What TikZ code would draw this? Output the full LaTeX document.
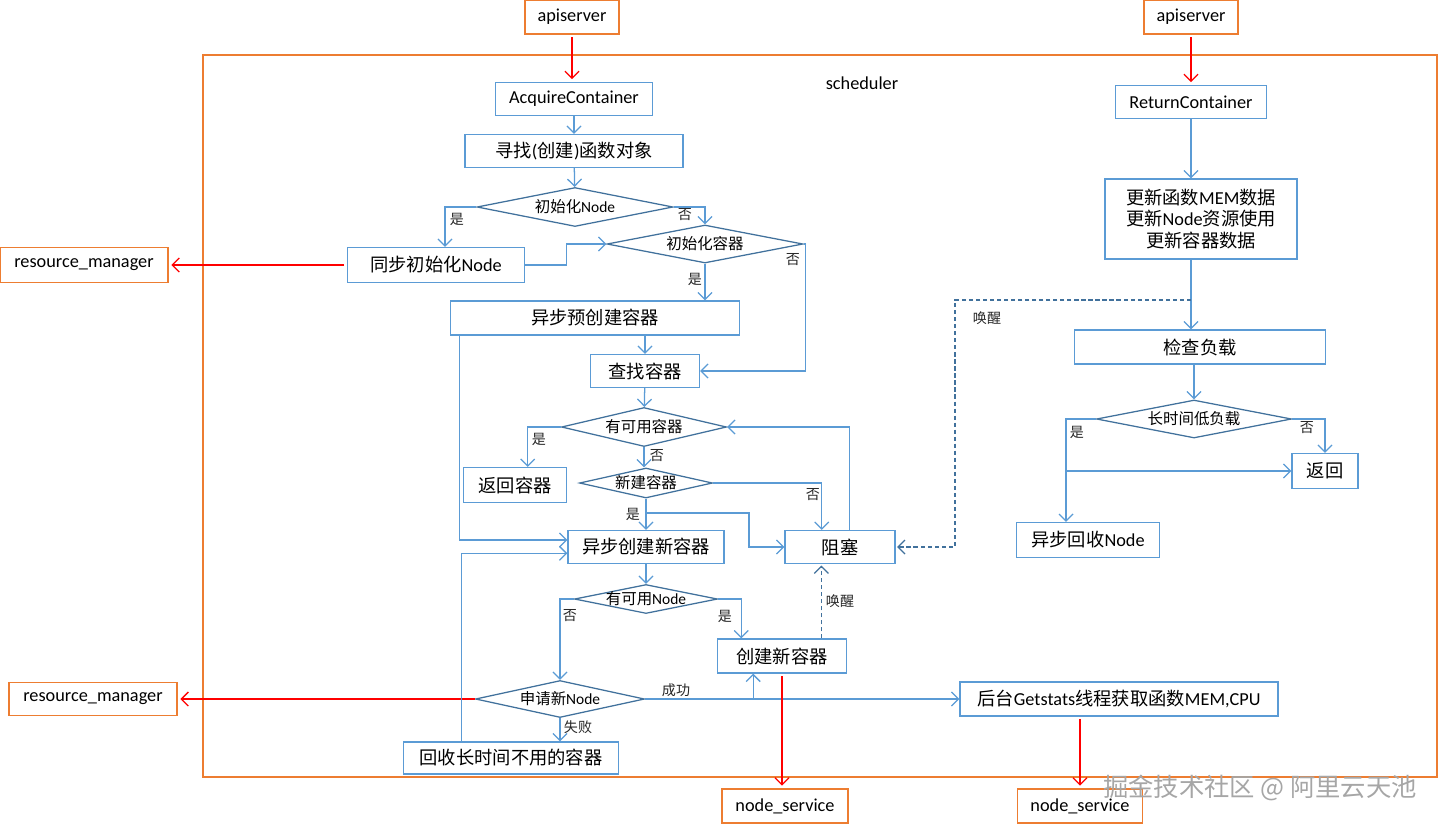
\documentclass[tikz,border=0pt]{standalone}
\usepackage{fontspec}
\setmainfont{Noto Sans CJK SC}
\newfontfamily\lat{Carlito}
\usetikzlibrary{arrows.meta,shapes.geometric}
\definecolor{orng}{HTML}{ED7D31}
\definecolor{boxblue}{HTML}{5B9BD5}
\definecolor{diablue}{HTML}{41719C}
\definecolor{redarr}{HTML}{FF0000}
\definecolor{wmgray}{HTML}{A6A6A6}
\newcommand{\dtxt}[1]{\makebox[0pt]{#1}}
\newcommand{\bigf}{\fontsize{13}{15.4}\selectfont}
\tikzset{
  sz/.style 2 args={minimum width=#1*0.025cm, minimum height=#2*0.025cm},
  extbox/.style={draw=orng, line width=0.9pt, inner sep=0pt, font=\lat\bigf},
  stepbox/.style={draw=boxblue, line width=0.9pt, inner sep=0pt, align=center, font=\bigf},
  decbox/.style={diamond, draw=diablue, line width=0.9pt, inner sep=0pt, aspect=5,
                 font=\fontsize{11}{13}\selectfont},
  lbl/.style={inner sep=0pt, text=black!85, font=\fontsize{10}{12}\selectfont},
  barr/.style={-{Straight Barb[length=5pt,width=10pt]}, draw=boxblue, line width=0.9pt},
  rarr/.style={-{Straight Barb[length=5pt,width=10pt]}, draw=redarr, line width=0.9pt,
               shorten <=2pt, shorten >=2pt},
  darr/.style={-{Straight Barb[length=5pt,width=10pt]}, draw=diablue, line width=0.9pt,
               dash pattern=on 3pt off 2pt, shorten >=1pt}}

\begin{document}
\begin{tikzpicture}[x=0.025cm, y=-0.025cm]
  \useasboundingbox (0,0) rectangle (1440,825);
  \draw[draw=orng, line width=0.9pt] (203,55) rectangle (1437,777);
  \node[inner sep=0pt, font=\lat\bigf] (sched) at (862,83) {scheduler};

  \node[extbox, sz={94}{34}] (api1) at (572,17) {apiserver};
  \node[extbox, sz={94}{34}] (api2) at (1191,17) {apiserver};
  \node[extbox, sz={168}{35}] (rm1) at (84,265) {resource\_manager};
  \node[extbox, sz={168}{33}] (rm2) at (93,699) {resource\_manager};
  \node[extbox, sz={126}{34}] (ns1) at (785,806) {node\_service};
  \node[extbox, sz={125}{34}] (ns2) at (1080,806) {node\_service};

  \node[stepbox, sz={157}{33}, font=\lat\bigf] (acq) at (574,99) {AcquireContainer};
  \node[stepbox, sz={218}{33}] (findfn) at (574,151) {寻找{\lat(}创建{\lat)}函数对象};
  \node[decbox, sz={196}{39}] (initn) at (575,207) {\dtxt{初始化{\lat Node}}};
  \node[stepbox, sz={177}{35}] (syncn) at (436,265) {同步初始化{\lat Node}};
  \node[decbox, sz={196}{38}] (initc) at (705,244) {\dtxt{初始化容器}};
  \node[stepbox, sz={289}{34}] (precr) at (595,318) {异步预创建容器};
  \node[stepbox, sz={109}{33}] (findc) at (645,371) {查找容器};
  \node[decbox, sz={165}{39}] (avail) at (644,427) {\dtxt{有可用容器}};
  \node[stepbox, sz={103}{35}] (retc) at (515,485) {返回容器};
  \node[decbox, sz={133}{30}] (newc) at (646,483) {\dtxt{新建容器}};
  \node[stepbox, sz={110}{33}] (block) at (840,547) {阻塞};
  \node[stepbox, sz={156}{33}] (asyncnew) at (646,547) {异步创建新容器};
  \node[decbox, sz={143}{29}] (availn) at (646,599) {\dtxt{有可用{\lat Node}}};
  \node[stepbox, sz={129}{34}] (createc) at (782,656) {创建新容器};
  \node[decbox, sz={169}{37}] (applyn) at (560,699) {\dtxt{申请新{\lat Node}}};
  \node[stepbox, sz={318}{34}] (getst) at (1119,699) {后台{\lat Getstats}线程获取函数{\lat MEM,CPU}};
  \node[stepbox, sz={215}{32}] (recyc) at (511,758) {回收长时间不用的容器};

  \node[stepbox, sz={151}{33}, font=\lat\bigf] (retcont) at (1191,102) {ReturnContainer};
  \node[stepbox, sz={192}{80}] (upd) at (1201,219)
    {更新函数{\lat MEM}数据\\更新{\lat Node}资源使用\\更新容器数据};
  \node[stepbox, sz={251}{34}] (chk) at (1200,347) {检查负载};
  \node[decbox, sz={195}{38}] (lowl) at (1194,419) {\dtxt{长时间低负载}};
  \node[stepbox, sz={66}{35}] (ret) at (1325,471) {返回};
  \node[stepbox, sz={143}{35}] (asyncrec) at (1088,540) {异步回收{\lat Node}};

  \node[lbl] (y1) at (457,219) {是};
  \node[lbl] (n1) at (685,215) {否};
  \node[lbl] (n2) at (793,260) {否};
  \node[lbl] (y2) at (695,279) {是};
  \node[lbl] (y3) at (539,439) {是};
  \node[lbl] (n3) at (657,456) {否};
  \node[lbl] (n4) at (813,495) {否};
  \node[lbl] (y4) at (633,514) {是};
  \node[lbl] (n5) at (570,616) {否};
  \node[lbl] (y5) at (725,616) {是};
  \node[lbl] (wake1) at (840,601) {唤醒};
  \node[lbl] (ok) at (676,690) {成功};
  \node[lbl] (fail) at (578,727) {失败};
  \node[lbl] (wake2) at (987,318) {唤醒};
  \node[lbl] (y6) at (1077,432) {是};
  \node[lbl] (n6) at (1307,428) {否};

  \draw[rarr] (api1.south) -- (api1.south |- acq.north);
  \draw[barr] (acq) -- (findfn);
  \draw[barr] (findfn) -- (initn);
  \draw[barr] (initn.west) -| ([xshift=6.4pt]syncn.north);
  \draw[barr] (initn.east) -| (initc.north);
  \draw[barr] (syncn.east) -- ++(41,0) |- (initc.west);
  \draw[rarr] (syncn) -- (rm1);
  \draw[barr] (initc.south) -- (initc.south |- precr.north);
  \draw[barr] (initc.east) -- ++(2,0) |- (findc.east);
  \draw[barr] (findc.north |- precr.south) -- (findc.north);
  \draw[barr] ([xshift=7pt]precr.south west) |- ([yshift=5pt]asyncnew.west);
  \draw[barr] (findc) -- (avail);
  \draw[barr] (avail.west) -| ([xshift=9pt]retc.north);
  \draw[barr] (avail.south) -- (avail.south |- newc.north);
  \draw[barr] (newc.east) -| ([xshift=-13pt]block.north);
  \draw[barr] (newc) -- (asyncnew);
  \draw[barr] (newc.south |- 0,513) -- ++(103,0) |- (block.west);
  \draw[barr] ([xshift=7pt]block.north) |- (avail.east);
  \draw[barr] (asyncnew) -- (availn);
  \draw[barr] (availn.west) -| (applyn.north);
  \draw[barr] (availn.east) -| ([xshift=-29pt]createc.north);
  \draw[darr] ([xshift=28pt]createc.north) -- ([xshift=28pt]createc.north |- block.south);
  \draw[rarr, shorten <=0pt] (applyn.west) -- (rm2.east);
  \draw[barr] (applyn.east) -- (getst.west);
  \draw[barr] ([xshift=-20.5pt]createc.south |- applyn.east) -- ([xshift=-20.5pt]createc.south);
  \draw[barr] (applyn.south) -- (applyn.south |- recyc.north);
  \draw[barr] ([xshift=-35.4pt]recyc.north) |- ([yshift=-4.5pt]asyncnew.west);
  \draw[rarr] (createc.south) -- (createc.south |- ns1.north);
  \draw[rarr] (ns2.north |- getst.south) -- (ns2.north);

  \draw[rarr] (api2.south) -- (api2.south |- retcont.north);
  \draw[barr] (retcont.south) -- (retcont.south |- upd.north);
  \draw[barr] (retcont.south |- upd.south) -- (retcont.south |- chk.north);
  \draw[darr] (retcont.south |- 0,300) -- ++(-236,0) |- (block.east);
  \draw[barr] (lowl.north |- chk.south) -- (lowl.north);
  \draw[barr] (lowl.west) -| ([xshift=-15.6pt]asyncrec.north);
  \draw[barr] ([xshift=-15.6pt]asyncrec.north |- ret.west) -- (ret.west);
  \draw[barr] (lowl.east) -| (ret.north);

  \node[inner sep=0pt, text=wmgray, font=\fontsize{18}{21}\selectfont] (wm) at (1260,788)
    {掘金技术社区 @ 阿里云天池};
\end{tikzpicture}
\end{document}
